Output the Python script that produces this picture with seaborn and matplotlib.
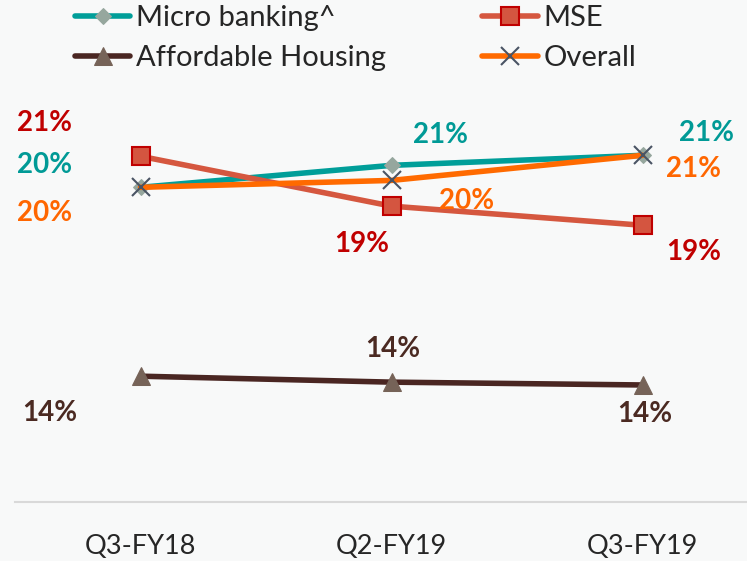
import numpy as np
import pandas as pd
import matplotlib
matplotlib.use("Agg")
import matplotlib.pyplot as plt
import seaborn as sns

# Yield values (%)
quarters = ["Q3-FY18", "Q2-FY19", "Q3-FY19"]
micro_banking = [20.03, 20.73, 21.05]
mse = [21.02, 19.43, 18.82]
affordable_housing = [14.01, 13.82, 13.73]
overall = [20.03, 20.25, 21.05]

series = {
    "Micro banking^": micro_banking,
    "MSE": mse,
    "Affordable Housing": affordable_housing,
    "Overall": overall,
}

styles = {
    "Micro banking^": dict(color="#009E99", marker="D", markersize=8,
                           markerfacecolor="#96A79E", markeredgecolor="#96A79E"),
    "MSE": dict(color="#D5573F", marker="s", markersize=13,
                markerfacecolor="#D45540", markeredgecolor="#C00000", markeredgewidth=1.5),
    "Affordable Housing": dict(color="#4A2622", marker="^", markersize=13,
                               markerfacecolor="#766358", markeredgecolor="#766358"),
    "Overall": dict(color="#FF6A00", marker="x", markersize=13,
                    markeredgecolor="#4A5464", markeredgewidth=1.5),
}
label_colors = {
    "Micro banking^": "#009A96",
    "MSE": "#C00000",
    "Affordable Housing": "#4B2A22",
    "Overall": "#FF6600",
}
# label offsets in pixels (dx, dy with dy pointing down)
offsets = {
    "Micro banking^": [(-96, -22), (49, -30), (64, -22)],
    "MSE": [(-96, -33), (-30, 38), (51, 27)],
    "Affordable Housing": [(-91, 37), (1, -33), (2, 29)],
    "Overall": [(-96, 26), (75, 21), (51, 14)],
}

bg = "#F8F9F9"
sns.set_style("white")
plt.rcParams["font.family"] = ["Lato", "DejaVu Sans"]

fig = plt.figure(figsize=(7.47, 5.61), dpi=100, facecolor=bg)
ax = fig.add_axes([15 / 747, 59 / 561, 753 / 747, 502 / 561])
ax.set_facecolor(bg)

for name, vals in series.items():
    df = pd.DataFrame({"quarter": quarters, "value": vals})
    sns.lineplot(data=df, x="quarter", y="value", ax=ax, linewidth=4,
                 label=name, sort=False, **styles[name])
    for i, v in enumerate(vals):
        dx, dy = offsets[name][i]
        ax.annotate(f"{v:.0f}%", (i, v), xytext=(dx, -dy), textcoords="offset pixels",
                    ha="center", va="center", fontsize=20, fontweight="bold",
                    color=label_colors[name])

ax.set_xlim(-0.5, 2.5)
ax.set_ylim(10, 26)
ax.set_xlabel("")
ax.set_ylabel("")
ax.set_yticks([])

ax.set_xticks([-0.5, 0.5, 1.5, 2.5])
ax.set_xticklabels([])
ax.set_xticks(range(len(quarters)), minor=True)
ax.set_xticklabels(quarters, minor=True, fontsize=19.5, color="#262626")
ax.tick_params(axis="x", which="major", length=7.5, width=1.3, color="#D9D9D9", direction="out")
ax.tick_params(axis="x", which="minor", length=0, pad=23)

for s in ["left", "top", "right"]:
    ax.spines[s].set_visible(False)
ax.spines["bottom"].set_color("#D9D9D9")
ax.spines["bottom"].set_linewidth(1.5)

handles, labels = ax.get_legend_handles_labels()
order = [0, 2, 1, 3]
ax.legend([handles[i] for i in order], [labels[i] for i in order], ncol=2,
          loc="upper left", bbox_to_anchor=(72 / 747, 1 - 2 / 561), bbox_transform=fig.transFigure,
          frameon=False, fontsize=21, handlelength=1.9, handletextpad=0.2,
          columnspacing=3.3, labelspacing=0.48, borderaxespad=0, borderpad=0.1,
          labelcolor="#262626")

fig.savefig("out.png", dpi=100, facecolor=bg)
